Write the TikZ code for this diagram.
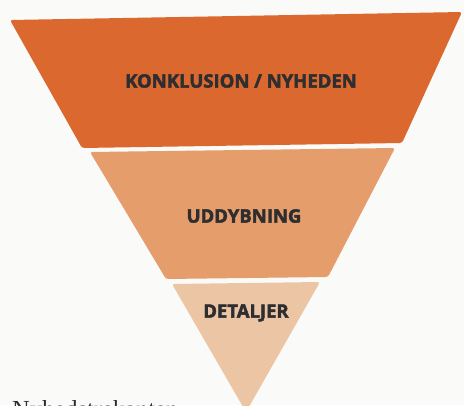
\documentclass[tikz,border=0pt]{standalone}
\usepackage{fontspec}
\setsansfont{Open Sans}[BoldFeatures={FakeBold=2.4}]
\setmainfont{Liberation Serif}
\definecolor{bgc}{RGB}{250,250,248}
\definecolor{topc}{RGB}{219,104,46}
\definecolor{midc}{RGB}{229,157,108}
\definecolor{lowc}{RGB}{236,198,164}
\definecolor{txtc}{RGB}{46,46,48}
\tikzset{
  band/.style={draw=none, rounded corners=2.5pt},
  label/.style={font=\sffamily\bfseries\fontsize{18.5}{21}\selectfont, text=txtc, inner sep=0pt},
}
\begin{document}
\begin{tikzpicture}[x=1pt,y=-1pt]
\useasboundingbox (0,0) rectangle (464,405);
\clip (0,0) rectangle (464,405);
\fill[bgc] (0,0) rectangle (464,405);
\fill[topc, band] (10,20) -- (462,12) -- (402,143) -- (82,148) -- cycle;
\fill[midc, band] (90,152) -- (395,148) -- (328,277) -- (166,279) -- cycle;
\fill[lowc, band] (172,284) -- (320,282) -- (246,412) -- cycle;
\node[label] (konk) at (241,81) {KONKLUSION / NYHEDEN};
\node[label] (udd) at (244,216) {UDDYBNING};
\node[label] (det) at (246,313) {DETALJER};
\node[anchor=north west, inner sep=0pt, font=\fontsize{24.5}{29}\selectfont, text=txtc] (title) at (12,400) {Nyhedstrekanten};
\end{tikzpicture}
\end{document}
